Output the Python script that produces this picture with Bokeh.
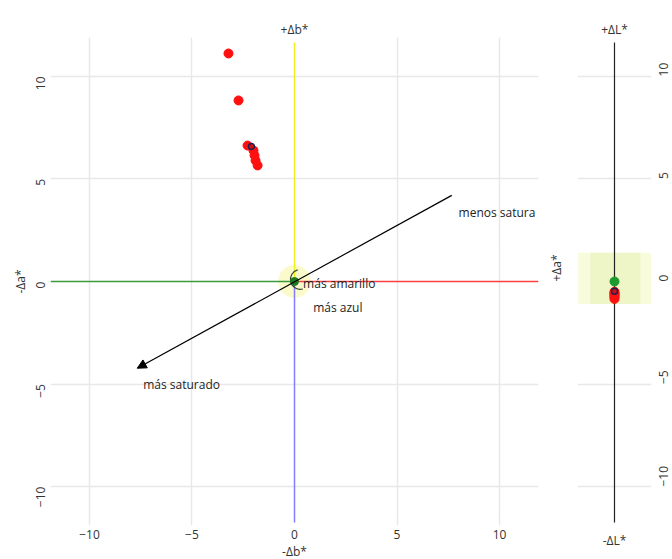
import math
from bokeh.plotting import figure
from bokeh.models import Range1d, LinearAxis, FixedTicker, Arrow, NormalHead
from bokeh.layouts import row
from bokeh.embed import file_html
from bokeh.resources import INLINE
from bokeh.core.properties import value

# ---------------- data ----------------
# horizontal (Δa*) and vertical (Δb*) differences of the samples
da_samples = [-3.22, -2.73, -2.29, -2.00, -1.95, -1.90, -1.80]
db_samples = [11.12, 8.83, 6.63, 6.39, 6.15, 5.90, 5.66]
# lightness differences of the samples
dl_samples = [-0.50, -0.55, -0.60, -0.65, -0.70, -0.78, -0.85]
# mean of the samples
da_mean = [-2.10]
db_mean = [6.59]
dl_mean = [-0.47]
# the standard
std_da = [0.0]
std_db = [0.0]
std_dl = [0.0]

tick_values = [-10, -5, 0, 5, 10]
grid_values = [-10, -5, 5, 10]

# chroma direction arrow (from "menos satura" to "más saturado")
chroma_start = [7.67, 4.20]
chroma_end = [-7.67, -4.23]

annot_text = ["menos satura", "más saturado", "más amarillo", "más azul"]
annot_x = [8.00, -7.38, 0.42, 0.91]
annot_y = [3.38, -5.02, -0.11, -1.28]

# lightness tolerance band
tol_dl = [-1.10, 1.40]

# extents of the reference axes
h_extent = 11.9
v_top = 11.66
v_bottom = -11.75
rng = 11.9

FONT = "Open Sans"
TXT = "#333333"
GRID = "#e8e8e8"

# ---------------- main a*/b* plot ----------------
p = figure(frame_width=488, frame_height=488,
           x_range=Range1d(-rng, rng), y_range=Range1d(-rng, rng),
           output_backend="svg", toolbar_location=None,
           min_border_left=50, min_border_right=34,
           min_border_top=37, min_border_bottom=34)
p.outline_line_color = None
p.background_fill_color = "white"
p.border_fill_color = "white"

p.xgrid.ticker = FixedTicker(ticks=grid_values)
p.ygrid.ticker = FixedTicker(ticks=grid_values)
for g in (p.xgrid, p.ygrid):
    g.grid_line_color = GRID
    g.grid_line_width = 1.5

def style_axis(ax, label, standoff_lab, standoff_axlab, ticks=None, rotate=False):
    ax.ticker = FixedTicker(ticks=ticks if ticks is not None else [])
    ax.axis_line_color = None
    ax.major_tick_line_color = None
    ax.minor_tick_line_color = None
    ax.major_tick_out = 0
    ax.major_tick_in = 0
    ax.major_label_standoff = standoff_lab
    ax.major_label_text_font = FONT
    ax.major_label_text_font_size = "12px"
    ax.major_label_text_color = TXT
    ax.axis_label = label
    ax.axis_label_standoff = standoff_axlab
    ax.axis_label_text_font = FONT
    ax.axis_label_text_font_size = "12px"
    ax.axis_label_text_font_style = "normal"
    ax.axis_label_text_color = TXT
    if rotate:
        ax.major_label_orientation = math.pi / 2

style_axis(p.xaxis[0], "-Δb*", 4, 1, tick_values)
style_axis(p.yaxis[0], "-Δa*", 10, 0, tick_values, rotate=True)

top_ax = LinearAxis()
style_axis(top_ax, "+Δb*", 0, 0)
p.add_layout(top_ax, "above")

right_ax = LinearAxis()
style_axis(right_ax, "+Δa*", 0, 18)
try:
    right_ax.axis_label_orientation = math.pi / 2
except Exception:
    pass
p.add_layout(right_ax, "right")

# soft glow at the origin
p.circle(x=std_da, y=std_db, radius=0.8, fill_color="#f6f6a8",
         fill_alpha=0.6, line_color=None)

# reference axes
p.segment(x0=[-h_extent], y0=[0], x1=[0], y1=[0], line_color="#3c9a3c", line_width=1.5)
p.segment(x0=[0], y0=[0], x1=[h_extent], y1=[0], line_color="#ff4040", line_width=1.5)
p.segment(x0=[0], y0=[0], x1=[0], y1=[v_top], line_color="#f0f020", line_width=1.5)
p.segment(x0=[0], y0=[0], x1=[0], y1=[v_bottom], line_color="#7f7fff", line_width=1.5)

# small hue arc at the origin
p.arc(x=[0.28], y=[0.1], radius=0.48, start_angle=math.radians(105),
      end_angle=math.radians(285), line_color="#334433", line_width=1.2)

# chroma arrow
p.add_layout(Arrow(end=NormalHead(size=9, fill_color="black", line_color="black"),
                   x_start=chroma_start[0], y_start=chroma_start[1],
                   x_end=chroma_end[0], y_end=chroma_end[1],
                   line_color="black", line_width=1.2))

p.text(x=annot_x, y=annot_y, text=annot_text, text_font=value(FONT),
       text_font_size="12px", text_baseline="middle", text_align="left",
       text_color="#222222")

# samples
p.scatter(x=da_samples, y=db_samples, size=9, fill_color="#ff1010",
          line_color="#ff1010")
p.scatter(x=da_mean, y=db_mean, size=6, fill_color="#cc1010",
          line_color="#202050", line_width=1.5)
p.scatter(x=std_da, y=std_db, size=8, fill_color="#1f7a1f", line_color="#1f7a1f")

# ---------------- lightness plot ----------------
q = figure(frame_width=74, frame_height=488,
           x_range=Range1d(-1, 1), y_range=Range1d(-rng, rng),
           output_backend="svg", toolbar_location=None,
           y_axis_location="right",
           min_border_left=1, min_border_right=21,
           min_border_top=37, min_border_bottom=34)
q.outline_line_color = None
q.background_fill_color = "white"
q.border_fill_color = "white"
q.xgrid.visible = False
q.ygrid.ticker = FixedTicker(ticks=grid_values)
q.ygrid.grid_line_color = GRID
q.ygrid.grid_line_width = 1.5

style_axis(q.yaxis[0], "", 12, 0, tick_values, rotate=True)
style_axis(q.xaxis[0], "-ΔL*", 0, 6)
q_top = LinearAxis()
style_axis(q_top, "+ΔL*", 0, 0)
q.add_layout(q_top, "above")

q.quad(left=[-1], right=[1], bottom=[tol_dl[0]], top=[tol_dl[1]],
       fill_color="#f8fbdc", line_color=None)
q.quad(left=[-0.65], right=[0.7], bottom=[tol_dl[0]], top=[tol_dl[1]],
       fill_color="#eef5c6", line_color=None)

q.segment(x0=[0], y0=[v_bottom], x1=[0], y1=[v_top], line_color="#222222", line_width=1.2)

q.scatter(x=[0] * len(dl_samples), y=dl_samples, size=9,
          fill_color="#ff1010", line_color="#ff1010")
q.scatter(x=[0], y=std_dl, size=9, fill_color="#1f9a2f", line_color="#1f9a2f")
q.scatter(x=[0], y=dl_mean, size=6, fill_color="#cc1010",
          line_color="#202050", line_width=1.5)

layout = row(p, q)
open("out.html", "w").write(file_html(layout, INLINE))
